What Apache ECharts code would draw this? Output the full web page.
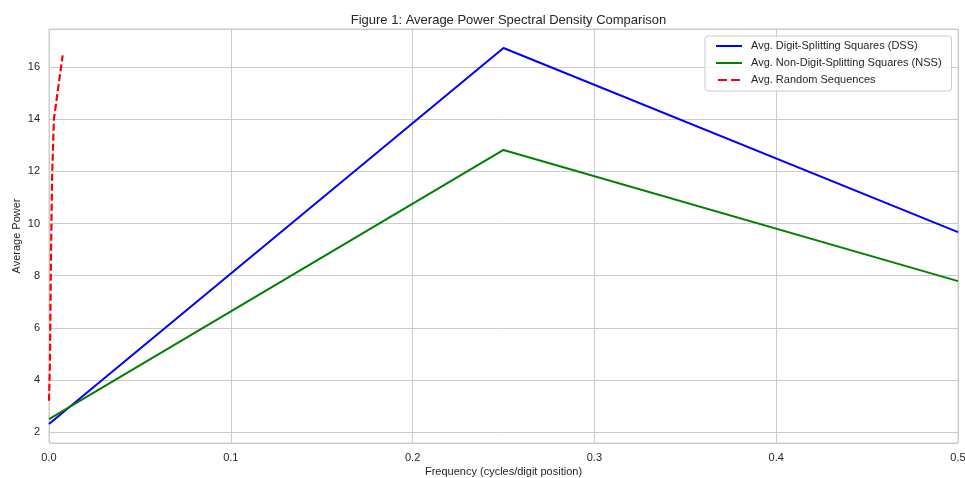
<!DOCTYPE html>
<html>
<head>
<meta charset="utf-8">
<script src="https://cdn.jsdelivr.net/npm/echarts@6/dist/echarts.min.js"></script>
<style>
  html, body { margin: 0; padding: 0; background: #ffffff; }
  #chart { width: 965px; height: 478px; }
</style>
</head>
<body>
<div id="chart"></div>
<script>
// Frequencies (cycles/digit position) and average power per group
const dssFreq = [0.0, 0.25, 0.5];
const dssPower = [2.31, 16.73, 9.67];

const nssFreq = [0.0, 0.25, 0.5];
const nssPower = [2.50, 12.82, 7.79];

const rndFreq = [0.0, 0.0005, 0.0011, 0.0017, 0.0027, 0.0075];
const rndPower = [3.2, 4.6, 8.8, 11.8, 14.0, 16.45];

const seriesNames = [
  'Avg. Digit-Splitting Squares (DSS)',
  'Avg. Non-Digit-Splitting Squares (NSS)',
  'Avg. Random Sequences'
];

const xTicks = [0, 0.1, 0.2, 0.3, 0.4, 0.5];

const zip = (xs, ys) => xs.map((x, i) => [x, ys[i]]);

const textColor = '#262626';
const gridColor = '#cccccc';
const fontFamily = '"Liberation Sans", Arial, sans-serif';

// legend swatches: solid bar and dashed bar
const solidIcon = 'path://M0,0H26V2H0Z';
const dashedIcon = 'path://M0,0H9V2H0Z M13,0H22V2H13Z';

const chart = echarts.init(document.getElementById('chart'), null, { renderer: 'canvas' });

chart.setOption({
  backgroundColor: '#ffffff',
  animation: false,
  textStyle: { fontFamily: fontFamily, color: textColor },
  title: {
    text: 'Figure 1: Average Power Spectral Density Comparison',
    left: 503.5,
    textAlign: 'center',
    top: 9,
    textStyle: { fontSize: 13, fontWeight: 'normal', color: textColor, fontFamily: fontFamily }
  },
  grid: {
    left: 49, right: 7, top: 29, bottom: 35,
    outerBoundsMode: 'none', containLabel: false,
    show: true, borderColor: gridColor, borderWidth: 1
  },
  legend: {
    data: [
      { name: seriesNames[0], icon: solidIcon },
      { name: seriesNames[1], icon: solidIcon },
      { name: seriesNames[2], icon: dashedIcon }
    ],
    orient: 'vertical',
    left: 705,
    top: 36,
    padding: [4, 10, 5, 11],
    itemGap: 5,
    itemWidth: 26,
    itemHeight: 2,
    backgroundColor: 'rgba(255,255,255,0.8)',
    borderColor: gridColor,
    borderWidth: 1,
    borderRadius: 3,
    textStyle: { fontSize: 11, lineHeight: 12, color: textColor, fontFamily: fontFamily, padding: [0, 0, 0, 4] }
  },
  xAxis: {
    type: 'value',
    min: 0,
    max: 0.5,
    interval: 0.1,
    name: 'Frequency (cycles/digit position)',
    nameLocation: 'middle',
    nameGap: 23,
    nameMoveOverlap: false,
    nameTextStyle: { fontSize: 11, color: textColor },
    axisLine: { show: false },
    axisTick: { show: false },
    axisLabel: {
      fontSize: 11, color: textColor, margin: 9,
      formatter: v => {
        const t = xTicks.find(x => Math.abs(x - v) < 1e-9);
        return t === undefined ? '' : t.toFixed(1);
      }
    },
    splitLine: { show: true, lineStyle: { color: gridColor, width: 1 } }
  },
  yAxis: {
    type: 'value',
    min: 1.58,
    max: 17.46,
    minInterval: 2,
    maxInterval: 2,
    name: 'Average Power',
    nameLocation: 'middle',
    nameGap: 27,
    nameMoveOverlap: false,
    nameTextStyle: { fontSize: 11, color: textColor },
    axisLine: { show: false },
    axisTick: { show: false },
    axisLabel: {
      fontSize: 11, color: textColor, margin: 9,
      showMinLabel: false, showMaxLabel: false,
      formatter: v => (Math.abs(v - Math.round(v)) < 1e-6 ? String(Math.round(v)) : '')
    },
    splitLine: { show: true, lineStyle: { color: gridColor, width: 1 } }
  },
  series: [
    {
      name: seriesNames[0],
      type: 'line',
      data: zip(dssFreq, dssPower),
      showSymbol: false,
      symbol: 'none',
      lineStyle: { color: '#0000ff', width: 2 },
      itemStyle: { color: '#0000ff' },
      z: 3
    },
    {
      name: seriesNames[1],
      type: 'line',
      data: zip(nssFreq, nssPower),
      showSymbol: false,
      symbol: 'none',
      lineStyle: { color: '#008000', width: 2 },
      itemStyle: { color: '#008000' },
      z: 3
    },
    {
      name: seriesNames[2],
      type: 'line',
      data: zip(rndFreq, rndPower),
      showSymbol: false,
      symbol: 'none',
      lineStyle: { color: '#ff0000', width: 2.2, type: [7, 3] },
      itemStyle: { color: '#ff0000' },
      z: 4
    }
  ]
});
</script>
</body>
</html>
